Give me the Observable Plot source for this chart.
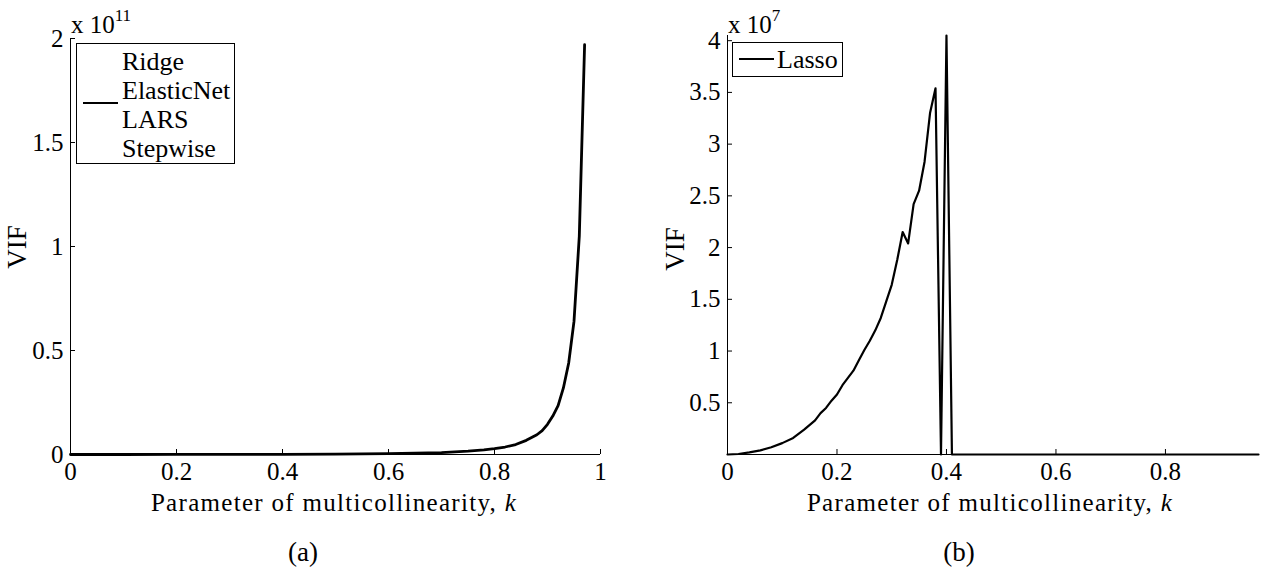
<!DOCTYPE html>
<html><head><meta charset="utf-8">
<script src="https://cdn.jsdelivr.net/npm/d3@7"></script>
<script src="https://cdn.jsdelivr.net/npm/@observablehq/plot@0.6"></script>
<style>
body{margin:0;background:#fff;}
#wrap{position:relative;width:1264px;height:575px;overflow:hidden;font-family:'Liberation Serif';color:#000;}
.abs{position:absolute;white-space:nowrap;line-height:1;font-family:'Liberation Serif';}
.plot{position:absolute;top:0;}
.legend{position:absolute;border:1px solid #000;background:#fff;box-sizing:border-box;}
.sample{position:absolute;height:0;border-top:2px solid #000;}
.rot{transform:translate(-50%,-50%) rotate(-90deg);}
.ctr{transform:translate(-50%,-50%);}
</style></head><body><div id="wrap"></div>
<script>
// Panel (a): VIF (x 1e11) vs parameter of multicollinearity k
const methodsA = ["Ridge", "ElasticNet", "LARS", "Stepwise"];
const kA = [0, 0.1, 0.2, 0.3, 0.4, 0.5, 0.6, 0.65, 0.7, 0.75, 0.78, 0.8, 0.82, 0.84, 0.86, 0.88, 0.89, 0.9, 0.91, 0.92, 0.93, 0.94, 0.95, 0.96, 0.97];
const vifA = [0, 0.0001, 0.0002, 0.0004, 0.0008, 0.0015, 0.004, 0.006, 0.009, 0.016, 0.022, 0.028, 0.036, 0.048, 0.068, 0.095, 0.115, 0.145, 0.185, 0.235, 0.32, 0.44, 0.64, 1.05, 1.97];
const xTicksA = [0, 0.2, 0.4, 0.6, 0.8, 1];
const yTicksA = [0, 0.5, 1, 1.5, 2];

// Panel (b): VIF (x 1e7) vs k, Lasso
const methodsB = ["Lasso"];
const kB = [0, 0.02, 0.04, 0.06, 0.08, 0.10, 0.12, 0.14, 0.16, 0.17, 0.18, 0.19, 0.20, 0.21, 0.22, 0.23, 0.24, 0.25, 0.26, 0.27, 0.28, 0.29, 0.30, 0.31, 0.32, 0.33, 0.34, 0.35, 0.36, 0.37, 0.38, 0.39, 0.40, 0.41, 0.97];
const vifB = [0, 0.005, 0.02, 0.04, 0.07, 0.11, 0.16, 0.24, 0.33, 0.40, 0.45, 0.52, 0.58, 0.67, 0.74, 0.81, 0.91, 1.01, 1.10, 1.20, 1.32, 1.48, 1.64, 1.88, 2.15, 2.04, 2.42, 2.55, 2.83, 3.30, 3.54, 0, 4.05, 0, 0];
const xTicksB = [0, 0.2, 0.4, 0.6, 0.8];
const yTicksB = [0.5, 1, 1.5, 2, 2.5, 3, 3.5, 4];

const xLabel = "Parameter of multicollinearity, ";
const yLabel = "VIF";
const FONT = "'Liberation Serif'";

function panel({k, v, xDomain, yDomain, xTicks, yTicks, width, height, ml, mr, mt, mb, sw}) {
  const fw = width - ml - mr, fh = height - mt - mb;
  const data = k.map((x, i) => ({k: x, v: v[i]}));
  const svg = Plot.plot({
    width, height, marginLeft: ml, marginRight: mr, marginTop: mt, marginBottom: mb,
    style: {fontFamily: FONT, fontSize: "25px", background: "transparent", overflow: "visible", color: "#000"},
    x: {domain: xDomain},
    y: {domain: yDomain},
    marks: [
      Plot.axisX(xTicks, {tickSize: 0, tickPadding: 8, fontSize: 25, label: null, tickFormat: d => String(d)}),
      Plot.axisY(yTicks, {tickSize: 0, tickPadding: 7, fontSize: 25, label: null, tickFormat: d => String(d)}),
      Plot.tickX(xTicks, {x: d => d, insetTop: fh - 5, stroke: "#000", strokeWidth: 1}),
      Plot.tickY(yTicks, {y: d => d, insetRight: fw - 5, stroke: "#000", strokeWidth: 1}),
      Plot.ruleY([yDomain[0]], {stroke: "#000", strokeWidth: 1}),
      Plot.ruleX([xDomain[0]], {stroke: "#000", strokeWidth: 1}),
      Plot.line(data, {x: "k", y: "v", stroke: "#000", strokeWidth: sw})
    ]
  });
  svg.querySelectorAll("text").forEach(t => t.style.fontFamily = FONT);
  svg.style.fontFamily = FONT;
  return svg;
}

const wrap = document.getElementById("wrap");

const pA = panel({k: kA, v: vifA, xDomain: [0, 1], yDomain: [0, 2], xTicks: xTicksA, yTicks: yTicksA,
  width: 640, height: 575, ml: 70, mr: 40, mt: 38, mb: 121, sw: 2.8});
pA.classList.add("plot"); pA.style.left = "0px";
wrap.appendChild(pA);

const pB = panel({k: kB, v: vifB, xDomain: [0, 0.97], yDomain: [0, 4.05], xTicks: xTicksB, yTicks: yTicksB,
  width: 624, height: 575, ml: 87, mr: 6, mt: 35, mb: 121, sw: 2.2});
pB.classList.add("plot"); pB.style.left = "640px";
wrap.appendChild(pB);

function add(html, cls, style) {
  const d = document.createElement("div");
  d.className = cls; d.innerHTML = html;
  Object.assign(d.style, style);
  d.style.fontFamily = FONT;
  wrap.appendChild(d);
  return d;
}

// exponent multipliers
add('x 10<sup style="font-size:17px;position:relative;top:-3px;">11</sup>', "abs", {left: "71px", top: "10px", fontSize: "25px"});
add('x 10<sup style="font-size:17px;position:relative;top:-3px;">7</sup>', "abs", {left: "728px", top: "10px", fontSize: "25px"});

// legend (a)
add("", "legend", {left: "76px", top: "43px", width: "159px", height: "121px"});
add("", "sample", {left: "83px", top: "102px", width: "35px"});
methodsA.forEach((m, i) => {
  add(m, "abs", {left: "122px", top: (49 + i * 29) + "px", fontSize: "26px"});
});

// legend (b)
add("", "legend", {left: "732px", top: "42px", width: "111px", height: "35px"});
add("", "sample", {left: "739px", top: "58px", width: "35px"});
methodsB.forEach((m, i) => {
  add(m, "abs", {left: "777px", top: (47 + i * 29) + "px", fontSize: "26px"});
});

// axis labels
add(yLabel, "abs rot", {left: "17px", top: "247px", fontSize: "27px"});
add(yLabel, "abs rot", {left: "675px", top: "249px", fontSize: "27px"});
add(xLabel + "<i>k</i>", "abs ctr", {left: "334px", top: "502px", fontSize: "25px", letterSpacing: "1.3px"});
add(xLabel + "<i>k</i>", "abs ctr", {left: "990px", top: "502px", fontSize: "25px", letterSpacing: "1.3px"});

// captions
add("(a)", "abs ctr", {left: "303px", top: "552px", fontSize: "27px"});
add("(b)", "abs ctr", {left: "959px", top: "552px", fontSize: "27px"});
</script></body></html>
